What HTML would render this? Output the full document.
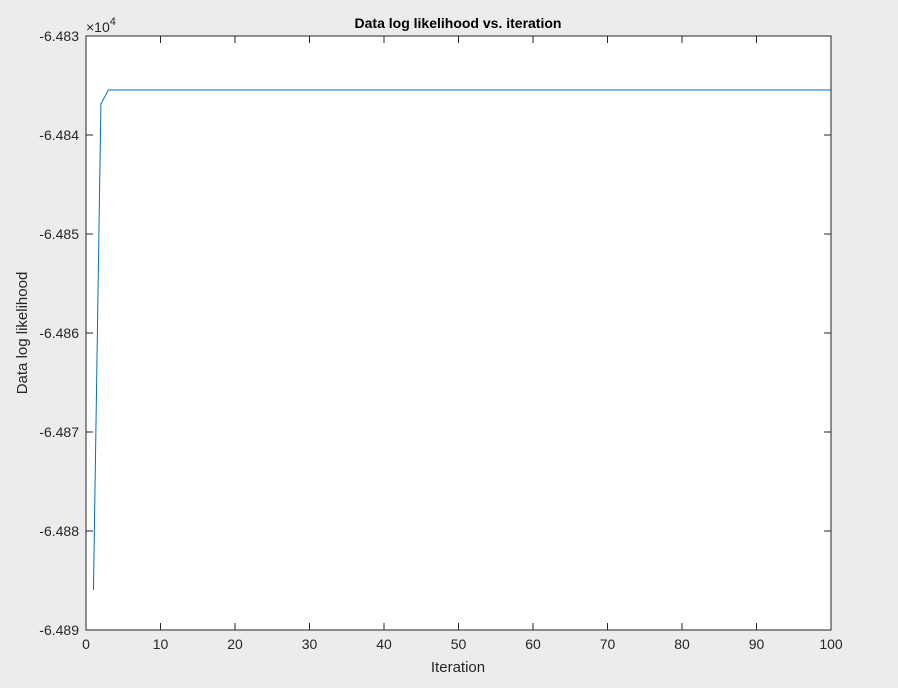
<!DOCTYPE html>
<html><head><meta charset="utf-8"><style>
html,body{margin:0;padding:0;background:#ececec;}
svg{display:block;font-family:"Liberation Sans",Arial,sans-serif;}
</style></head><body>
<svg id="chart" width="898" height="688" viewBox="0 0 898 688">
<rect x="0" y="0" width="898" height="688" fill="#ececec"/>
<rect x="86" y="36" width="745" height="594" fill="#ffffff"/>
<text x="458" y="28" text-anchor="middle" font-size="14" font-weight="bold" fill="#000">Data log likelihood vs. iteration</text>
<text x="458" y="672" text-anchor="middle" font-size="15" fill="#262626">Iteration</text>
<text x="27" y="333" text-anchor="middle" font-size="15" fill="#262626" transform="rotate(-90 27 333)">Data log likelihood</text>
<text x="86" y="32" font-size="14" fill="#262626">×10<tspan dy="-7" font-size="11">4</tspan></text>
</svg>
<script>
const xTicks = [0,10,20,30,40,50,60,70,80,90,100];
const yTicks = [-6.489,-6.488,-6.487,-6.486,-6.485,-6.484,-6.483];
const yTickLabels = ["-6.489","-6.488","-6.487","-6.486","-6.485","-6.484","-6.483"];
const iterations = [1,2,3,4,5,6,7,8,9,10,11,12,13,14,15,16,17,18,19,20,21,22,23,24,25,26,27,28,29,30,31,32,33,34,35,36,37,38,39,40,41,42,43,44,45,46,47,48,49,50,51,52,53,54,55,56,57,58,59,60,61,62,63,64,65,66,67,68,69,70,71,72,73,74,75,76,77,78,79,80,81,82,83,84,85,86,87,88,89,90,91,92,93,94,95,96,97,98,99,100];
const likelihood = [-6.488596,-6.483687,-6.483545,-6.483545,-6.483545,-6.483545,-6.483545,-6.483545,-6.483545,-6.483545,
-6.483545,-6.483545,-6.483545,-6.483545,-6.483545,-6.483545,-6.483545,-6.483545,-6.483545,-6.483545,
-6.483545,-6.483545,-6.483545,-6.483545,-6.483545,-6.483545,-6.483545,-6.483545,-6.483545,-6.483545,
-6.483545,-6.483545,-6.483545,-6.483545,-6.483545,-6.483545,-6.483545,-6.483545,-6.483545,-6.483545,
-6.483545,-6.483545,-6.483545,-6.483545,-6.483545,-6.483545,-6.483545,-6.483545,-6.483545,-6.483545,
-6.483545,-6.483545,-6.483545,-6.483545,-6.483545,-6.483545,-6.483545,-6.483545,-6.483545,-6.483545,
-6.483545,-6.483545,-6.483545,-6.483545,-6.483545,-6.483545,-6.483545,-6.483545,-6.483545,-6.483545,
-6.483545,-6.483545,-6.483545,-6.483545,-6.483545,-6.483545,-6.483545,-6.483545,-6.483545,-6.483545,
-6.483545,-6.483545,-6.483545,-6.483545,-6.483545,-6.483545,-6.483545,-6.483545,-6.483545,-6.483545,
-6.483545,-6.483545,-6.483545,-6.483545,-6.483545,-6.483545,-6.483545,-6.483545,-6.483545,-6.483545];

const L=86,R=831,T=36,B=630;
const xMin=0,xMax=100,yMin=-6.489,yMax=-6.483;
function sx(v){return L+(v-xMin)/(xMax-xMin)*(R-L);}
function sy(v){return B-(v-yMin)/(yMax-yMin)*(B-T);}
const svg=document.getElementById('chart');
const NS='http://www.w3.org/2000/svg';
function mk(tag,attrs){const e=document.createElementNS(NS,tag);for(const k in attrs)e.setAttribute(k,attrs[k]);svg.appendChild(e);return e;}

let d='';
iterations.forEach((it,i)=>{d+=(i?'L':'M')+sx(it).toFixed(2)+','+sy(likelihood[i]).toFixed(2);});
const line=mk('path',{d:d,fill:'none',stroke:'#0072bd','stroke-width':1});



const box=mk('rect',{x:L,y:T,width:R-L,height:B-T,fill:'none',stroke:'#262626','stroke-width':1});



xTicks.forEach(v=>{
  const x=sx(v);
  const t1=mk('line',{x1:x,x2:x,y1:B,y2:B-7,stroke:'#262626','stroke-width':1});
  
  
  const t2=mk('line',{x1:x,x2:x,y1:T,y2:T+7,stroke:'#262626','stroke-width':1});
  
  
  const lb=mk('text',{x:x,y:B+19,'text-anchor':'middle','font-size':14,fill:'#262626'});
  lb.textContent=v;
  
  
});
yTicks.forEach((v,i)=>{
  const y=sy(v);
  const t1=mk('line',{x1:L,x2:L+7,y1:y,y2:y,stroke:'#262626','stroke-width':1});
  
  
  const t2=mk('line',{x1:R,x2:R-7,y1:y,y2:y,stroke:'#262626','stroke-width':1});
  
  
  const lb=mk('text',{x:L-7,y:y+5,'text-anchor':'end','font-size':14,fill:'#262626'});
  lb.textContent=yTickLabels[i];
  
  
});
</script>
</body></html>
